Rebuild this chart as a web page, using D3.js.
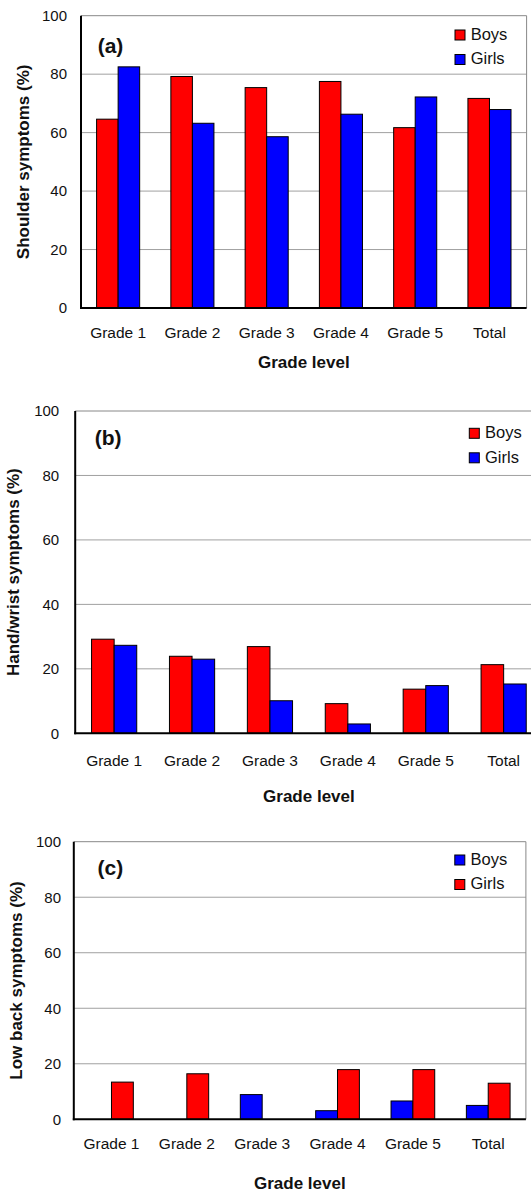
<!DOCTYPE html>
<html>
<head>
<meta charset="utf-8">
<script src="https://cdn.jsdelivr.net/npm/d3@7"></script>
<style>
  body { margin: 0; background: #fff; }
  svg { display: block; font-family: "Liberation Sans", Arial, sans-serif; }
</style>
</head>
<body>
<div id="chart"></div>
<script>
// values (percent)
var grades = ["Grade 1", "Grade 2", "Grade 3", "Grade 4", "Grade 5", "Total"];
var yTicks = [0, 20, 40, 60, 80, 100];
var seriesNames = ["Boys", "Girls"];

var shoulderBoys  = [64.6, 79.2, 75.4, 77.5, 61.7, 71.7];
var shoulderGirls = [82.5, 63.2, 58.6, 66.3, 72.2, 67.9];
var handBoys  = [29.2, 23.9, 26.9, 9.2, 13.7, 21.3];
var handGirls = [27.3, 23.0, 10.1, 2.9, 14.8, 15.3];
var backBoys  = [0, 0, 8.9, 3.1, 6.6, 5.0];
var backGirls = [13.4, 16.4, 0, 17.9, 17.9, 13.0];

var red = "#ff0000", blue = "#0000ff";

var panels = [
  {label: "(a)", yTitle: "Shoulder symptoms (%)", boys: shoulderBoys, girls: shoulderGirls,
   colors: [red, blue], left: 81, right: 526.6, top: 15.7, bottom: 308,
   tickPad: 14, labelX: 97.7, labelY: 53.3, legX: 455, legY: 30,
   xLabY: 30.3, xTitleY: 60.3, yTitleX: 28.8},
  {label: "(b)", yTitle: "Hand/wrist symptoms (%)", boys: handBoys, girls: handGirls,
   colors: [red, blue], left: 75.2, right: 542.6, top: 411, bottom: 733.3,
   tickPad: 16, labelX: 94.8, labelY: 445, legX: 469.3, legY: 428.3,
   xLabY: 32.7, xTitleY: 68.4, yTitleX: 18.6},
  {label: "(c)", yTitle: "Low back symptoms (%)", boys: backBoys, girls: backGirls,
   colors: [blue, red], left: 73.8, right: 525.9, top: 841.7, bottom: 1119.3,
   tickPad: 12.8, labelX: 97.5, labelY: 875, legX: 454.8, legY: 855,
   xLabY: 30, xTitleY: 70, yTitleX: 22}
];

var svg = d3.select("#chart").append("svg")
    .attr("width", 531)
    .attr("height", 1193);

panels.forEach(drawPanel);

function drawPanel(p) {
    var g = svg.append("g");

    var x = d3.scaleBand().domain(grades)
        .range([p.left, p.right])
        .paddingInner(0.42).paddingOuter(0.21);
    var x1 = d3.scaleBand().domain(seriesNames)
        .range([0, x.bandwidth()]);
    var y = d3.scaleLinear().domain([0, 100]).range([p.bottom, p.top]);

    // grid + frame
    g.selectAll(".grid")
        .data(yTicks.filter(function(d) { return d > 0; }))
        .enter().append("line")
        .attr("x1", p.left).attr("x2", p.right)
        .attr("y1", function(d) { return y(d); })
        .attr("y2", function(d) { return y(d); })
        .attr("stroke", function(d) { return d == 100 ? "#888" : "#a0a0a0"; })
        .attr("stroke-width", 1);
    g.append("line")
        .attr("x1", p.right).attr("x2", p.right)
        .attr("y1", p.top).attr("y2", p.bottom)
        .attr("stroke", "#888");

    // bars
    var rows = grades.map(function(gr, i) {
        return [{s: "Boys", v: p.boys[i], c: p.colors[0]},
                {s: "Girls", v: p.girls[i], c: p.colors[1]}].map(function(d) {
            d.g = gr; return d;
        });
    });
    var groups = g.selectAll(".grp")
        .data(rows)
        .enter().append("g")
        .attr("transform", function(d) { return "translate(" + x(d[0].g) + ",0)"; });
    groups.selectAll("rect")
        .data(function(d) { return d.filter(function(e) { return e.v > 0; }); })
        .enter().append("rect")
        .attr("x", function(d) { return x1(d.s); })
        .attr("width", x1.bandwidth())
        .attr("y", function(d) { return y(d.v); })
        .attr("height", function(d) { return y(0) - y(d.v); })
        .attr("fill", function(d) { return d.c; })
        .attr("stroke", "#000")
        .attr("stroke-width", 1);

    // y axis
    var ya = g.append("g")
        .attr("transform", "translate(" + p.left + ",0)")
        .call(d3.axisLeft(y).tickValues(yTicks).tickSize(0).tickPadding(p.tickPad));
    ya.select(".domain").remove();
    ya.selectAll("text").attr("font-size", 15).attr("fill", "#111")
        .attr("font-family", "Liberation Sans, Arial, sans-serif");

    // x axis
    var xa = g.append("g")
        .attr("transform", "translate(0," + p.bottom + ")")
        .call(d3.axisBottom(x).tickSize(0));
    xa.select(".domain").remove();
    xa.selectAll("text")
        .attr("y", p.xLabY).attr("dy", 0)
        .attr("font-size", 15.5).attr("fill", "#111")
        .attr("font-family", "Liberation Sans, Arial, sans-serif");

    // black axis lines
    g.append("line")
        .attr("x1", p.left).attr("x2", p.left)
        .attr("y1", p.top).attr("y2", p.bottom + 1)
        .attr("stroke", "#000").attr("stroke-width", 2);
    g.append("line")
        .attr("x1", p.left - 1).attr("x2", p.right)
        .attr("y1", p.bottom).attr("y2", p.bottom)
        .attr("stroke", "#000").attr("stroke-width", 2);

    // titles
    g.append("text")
        .attr("x", (p.left + p.right) / 2)
        .attr("y", p.bottom + p.xTitleY)
        .attr("text-anchor", "middle")
        .attr("font-size", 17).attr("font-weight", "bold")
        .attr("fill", "#111")
        .text("Grade level");
    g.append("text")
        .attr("transform", "translate(" + p.yTitleX + "," + ((p.top + p.bottom) / 2) + ") rotate(-90)")
        .attr("text-anchor", "middle")
        .attr("font-size", 17).attr("font-weight", "bold")
        .attr("fill", "#111")
        .text(p.yTitle);
    g.append("text")
        .attr("x", p.labelX).attr("y", p.labelY)
        .attr("font-size", 21).attr("font-weight", "bold")
        .attr("fill", "#111")
        .text(p.label);

    // legend
    var leg = g.selectAll(".leg")
        .data(seriesNames)
        .enter().append("g")
        .attr("transform", function(d, i) {
            return "translate(" + p.legX + "," + (p.legY + i * 24.5) + ")";
        });
    leg.append("rect")
        .attr("width", 10).attr("height", 10)
        .attr("fill", function(d, i) { return p.colors[i]; })
        .attr("stroke", "#000").attr("stroke-width", 1);
    leg.append("text")
        .attr("x", 15.7).attr("y", 9.7)
        .attr("font-size", 16.5).attr("fill", "#111")
        .text(function(d) { return d; });
}
</script>
</body>
</html>
